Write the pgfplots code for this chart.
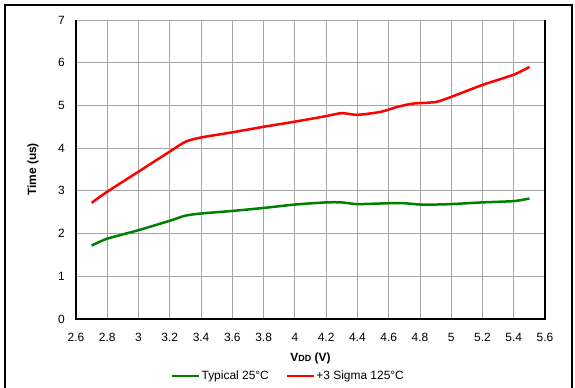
\documentclass[border=0pt]{standalone}
\usepackage{fontspec}
\setmainfont{Liberation Sans}
\usepackage{pgfplots}
\pgfplotsset{compat=1.18}
\definecolor{gline}{RGB}{0,128,0}
\definecolor{rline}{RGB}{255,0,0}
\begin{document}
\begin{tikzpicture}[x=1bp,y=1bp]
\useasboundingbox (0,0) rectangle (575,387);
\draw[black, line width=2bp] (5,-20) -- (5,382) -- (572,382) -- (572,-20);
\begin{axis}[
  at={(76bp,68bp)}, anchor=south west,
  scale only axis, width=469bp, height=299bp,
  xmin=2.6, xmax=5.6, ymin=0, ymax=7,
  xtick={2.6,2.8,...,5.61}, ytick={0,1,...,7},
  xticklabels={2.6,2.8,3,3.2,3.4,3.6,3.8,4,4.2,4.4,4.6,4.8,5,5.2,5.4,5.6},
  major tick length=0pt,
  grid=major, grid style={gray!70, line width=0.8bp},
  axis line style={draw=none},
  tick label style={font=\fontsize{12}{14}\selectfont},
  /pgf/number format/assume math mode=true,
  xticklabel style={anchor=center, yshift=-18bp},
  yticklabel style={anchor=east, inner sep=0pt, xshift=-11bp},
  xlabel={\textbf{V\fontsize{9}{10}\selectfont DD\fontsize{12}{14}\selectfont\ (V)}},
  xlabel style={font=\fontsize{12}{14}\selectfont, at={(axis description cs:0.5,-0.1304)}, anchor=center},
  ylabel={\textbf{Time (us)}},
  ylabel style={font=\fontsize{12}{14}\selectfont, at={(axis description cs:-0.0917,0.5)}, anchor=center},
  legend style={draw=none, at={(0.452,-0.1906)}, anchor=center, legend columns=2,
    font=\fontsize{12}{14}\selectfont, nodes={inner sep=1bp},
    /tikz/every even column/.append style={column sep=16bp}},
  legend image code/.code={\draw[#1, line width=2.5bp] (0bp,0bp) -- (27bp,0bp);},
  clip=false,
]
\addplot[gline, line width=2.5bp, smooth, tension=0.4] coordinates {
(2.7,1.72) (2.8,1.88) (3.0,2.08) (3.2,2.30) (3.3,2.42) (3.4,2.47) (3.6,2.53) (3.8,2.60) (4.0,2.68) (4.2,2.73) (4.3,2.73) (4.4,2.69) (4.6,2.71) (4.7,2.71) (4.8,2.68) (4.9,2.68) (5.0,2.69) (5.2,2.73) (5.4,2.76) (5.5,2.82)};
\addlegendentry{Typical 25°C}
\addplot[rline, line width=2.5bp, smooth, tension=0.4] coordinates {
(2.7,2.72) (2.8,2.98) (3.0,3.45) (3.2,3.92) (3.3,4.15) (3.4,4.25) (3.6,4.37) (3.8,4.50) (4.0,4.62) (4.2,4.75) (4.3,4.82) (4.4,4.78) (4.55,4.85) (4.65,4.96) (4.75,5.04) (4.9,5.08) (5.0,5.20) (5.2,5.48) (5.4,5.72) (5.5,5.90)};
\addlegendentry{+3 Sigma 125°C}
\draw[black, line width=1.6bp] (rel axis cs:0,1) -- (rel axis cs:0,0) -- (rel axis cs:1,0) -- (rel axis cs:1,1);
\end{axis}
\end{tikzpicture}
\end{document}
